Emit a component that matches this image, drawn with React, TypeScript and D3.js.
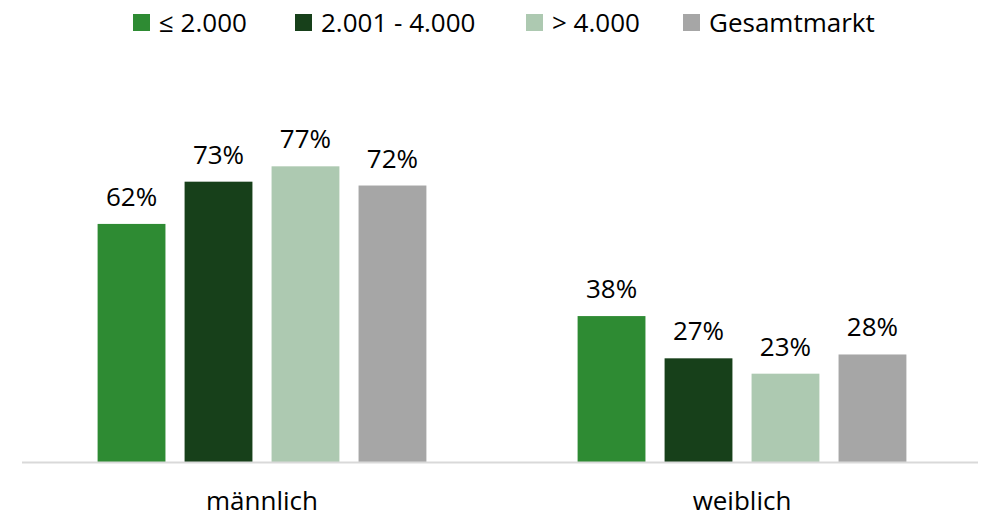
import React, { useEffect, useRef } from 'react';
import * as d3 from 'd3';

const categories = ['männlich', 'weiblich'];
const seriesNames = ['≤ 2.000', '2.001 - 4.000', '> 4.000', 'Gesamtmarkt'];
const seriesColors = ['#2e8b33', '#17401a', '#adc9b1', '#a6a6a6'];
// values per series, in the order of categories
const lowValues = [62, 38];
const midValues = [73, 27];
const highValues = [77, 23];
const totalValues = [72, 28];

const width = 985;
const height = 517;
const fontFamily = '"Open Sans", "Noto Sans", sans-serif';
const fontSize = '26px';

const App: React.FC = () => {
    const ref = useRef<SVGSVGElement>(null);

    useEffect(() => {
        const svg = d3.select(ref.current);
        svg.selectAll('*').remove();

        const seriesValues = [lowValues, midValues, highValues, totalValues];

        // outer band for the two groups
        const xGroup = d3
            .scaleBand()
            .domain(categories)
            .range([22, 982])
            .paddingInner(0.315)
            .paddingOuter(0.1575);

        // inner band for the bars inside a group
        const xSeries = d3
            .scaleBand()
            .domain(seriesNames)
            .range([0, xGroup.bandwidth()])
            .paddingInner(0.22);

        const y = d3.scaleLinear().domain([0, 100]).range([462, 78]);

        const groups = svg
            .selectAll('g.group')
            .data(categories)
            .enter()
            .append('g')
            .attr('class', 'group')
            .attr('transform', (c) => `translate(${xGroup(c)},0)`);

        groups.each(function (c, ci) {
            const g = d3.select(this);
            seriesNames.forEach((s, si) => {
                const v = seriesValues[si][ci];
                g.append('rect')
                    .attr('x', xSeries(s) ?? 0)
                    .attr('y', y(v))
                    .attr('width', xSeries.bandwidth())
                    .attr('height', y(0) - y(v))
                    .attr('fill', seriesColors[si]);
                g.append('text')
                    .attr('x', (xSeries(s) ?? 0) + xSeries.bandwidth() / 2)
                    .attr('y', y(v) - 18)
                    .attr('text-anchor', 'middle')
                    .style('font-family', fontFamily)
                    .style('font-size', fontSize)
                    .style('fill', '#000')
                    .text(`${v}%`);
            });
        });

        // baseline
        svg.append('line')
            .attr('x1', 22)
            .attr('x2', 978)
            .attr('y1', y(0) + 0.5)
            .attr('y2', y(0) + 0.5)
            .attr('stroke', '#d9d9d9')
            .attr('stroke-width', 2);

        // category labels
        svg.selectAll('text.cat')
            .data(categories)
            .enter()
            .append('text')
            .attr('class', 'cat')
            .attr('x', (c) => (xGroup(c) ?? 0) + xGroup.bandwidth() / 2)
            .attr('y', 510)
            .attr('text-anchor', 'middle')
            .style('font-family', fontFamily)
            .style('font-size', fontSize)
            .style('fill', '#000')
            .text((c) => c);

        // legend
        const legendX = [133, 295, 526, 683];
        const legend = svg
            .selectAll('g.legend')
            .data(seriesNames)
            .enter()
            .append('g')
            .attr('class', 'legend')
            .attr('transform', (_, i) => `translate(${legendX[i]},14)`);
        legend
            .append('rect')
            .attr('width', 17)
            .attr('height', 17)
            .attr('fill', (_, i) => seriesColors[i]);
        legend
            .append('text')
            .attr('x', 26)
            .attr('y', 18)
            .style('font-family', fontFamily)
            .style('font-size', fontSize)
            .style('fill', '#000')
            .text((d) => d);
    }, []);

    return (
        <svg
            ref={ref}
            width={width}
            height={height}
            style={{ position: 'absolute', left: 0, top: 0 }}
        ></svg>
    );
};

export default App;
